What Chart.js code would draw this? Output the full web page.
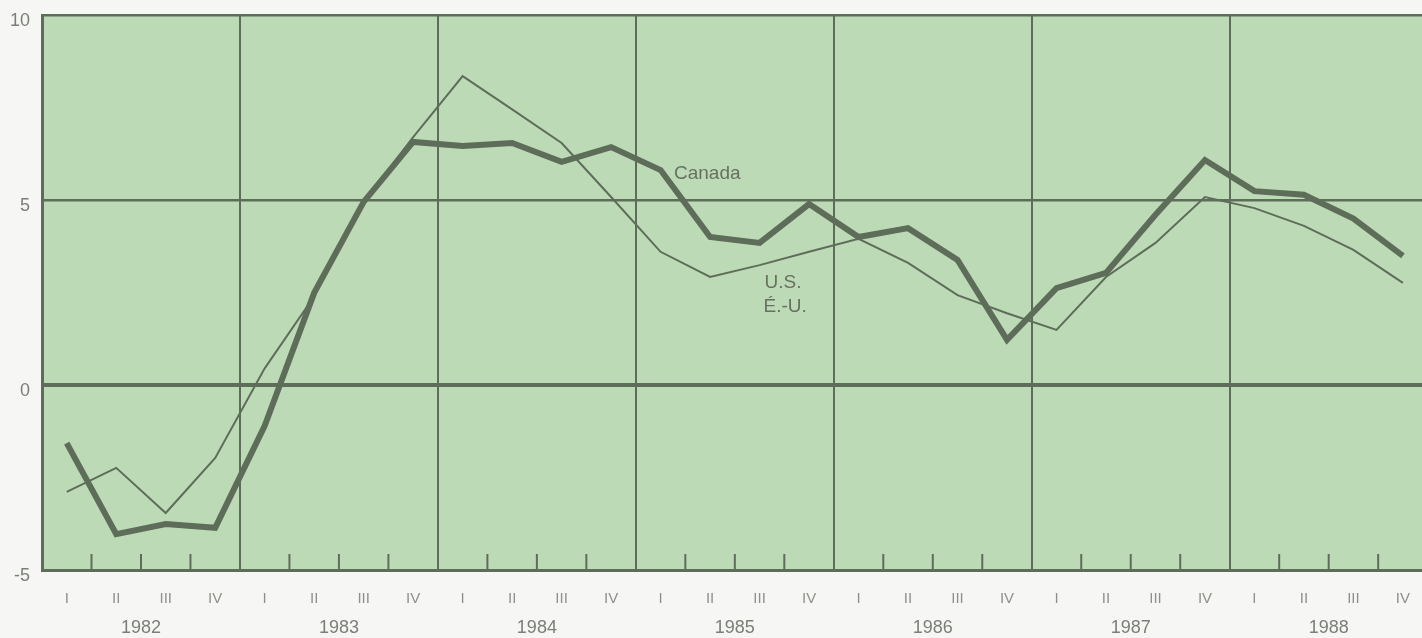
<!DOCTYPE html>
<html>
<head>
<meta charset="utf-8">
<script src="https://cdn.jsdelivr.net/npm/chart.js@4/dist/chart.umd.min.js"></script>
<style>
  html, body { margin: 0; padding: 0; background: #f6f7f4; overflow: hidden; }
  #wrap { width: 1430px; height: 638px; }
</style>
</head>
<body>
<div id="wrap"><canvas id="myChart"></canvas></div>
<script>
// quarterly values, 1982 I .. 1988 IV
const years = ["1982", "1983", "1984", "1985", "1986", "1987", "1988"];
const quarters = ["I", "II", "III", "IV"];
const canada = [-1.57, -4.03, -3.76, -3.86, -1.1, 2.49, 4.95, 6.57, 6.46, 6.54, 6.03, 6.43,
  5.81, 4.0, 3.84, 4.89, 4.0, 4.24, 3.38, 1.22, 2.62, 3.03, 4.6, 6.08, 5.24, 5.14, 4.5, 3.49];
const us = [-2.89, -2.24, -3.46, -1.97, 0.45, 2.4, 4.95, 6.7, 8.35, 7.45, 6.54, 5.08,
  3.6, 2.92, 3.24, 3.6, 3.95, 3.3, 2.43, 1.94, 1.49, 2.92, 3.84, 5.08, 4.78, 4.3, 3.65, 2.76];
const yTicks = [-5, 0, 5, 10];

let labels = [];
years.forEach(() => quarters.forEach((q) => labels.push(q)));

const lineCol = "#5e6d59";
const textCol = "#7a7f77";

// green plot area + short quarter marks + line names
const decor = {
  id: "decor",
  beforeDraw(chart) {
    let a = chart.chartArea;
    let ctx = chart.ctx;
    ctx.save();
    ctx.fillStyle = "#bddab6";
    ctx.fillRect(a.left, a.top, a.right - a.left, a.bottom - a.top);
    ctx.restore();
  },
  beforeDatasetsDraw(chart) {
    let a = chart.chartArea;
    let ctx = chart.ctx;
    let x = chart.scales.x;
    ctx.save();
    ctx.strokeStyle = lineCol;
    ctx.lineWidth = 2;
    for (let i = 1; i < labels.length; i++) {
      if (i % 4 == 0) continue;
      let px = (x.getPixelForValue(i - 1) + x.getPixelForValue(i)) / 2;
      ctx.beginPath();
      ctx.moveTo(px, a.bottom);
      ctx.lineTo(px, a.bottom - 16);
      ctx.stroke();
    }
    ctx.restore();
  },
  afterDatasetsDraw(chart) {
    let ctx = chart.ctx;
    let x = chart.scales.x;
    let y = chart.scales.y;
    let notes = [
      { text: "Canada", at: 12.27, v: 5.57 },
      { text: "U.S.", at: 14.1, v: 2.62 },
      { text: "É.-U.", at: 14.08, v: 1.97 },
    ];
    ctx.save();
    ctx.fillStyle = "#67715f";
    ctx.font = "19px 'Liberation Sans', Arial, sans-serif";
    ctx.textBaseline = "alphabetic";
    notes.forEach((n) => {
      ctx.fillText(n.text, x.getPixelForValue(n.at), y.getPixelForValue(n.v));
    });
    ctx.restore();
  },
};

let ctx = document.getElementById("myChart").getContext("2d");

const myChart = new Chart(ctx, {
  type: "line",
  data: {
    labels: labels,
    datasets: [
      {
        label: "U.S.",
        data: us,
        borderColor: lineCol,
        borderWidth: 2,
        pointRadius: 0,
        tension: 0,
        borderJoinStyle: "miter",
      },
      {
        label: "Canada",
        data: canada,
        borderColor: lineCol,
        borderWidth: 6,
        pointRadius: 0,
        tension: 0,
        borderJoinStyle: "miter",
      },
    ],
  },
  plugins: [decor],
  options: {
    responsive: true,
    maintainAspectRatio: false,
    animation: false,
    layout: { padding: { top: 15, right: 0, left: 0, bottom: 0 } },
    plugins: { legend: { display: false }, tooltip: { enabled: false } },
    scales: {
      y: {
        min: -5,
        max: 10,
        afterBuildTicks: (s) => { s.ticks = yTicks.map((v) => ({ value: v })); },
        afterFit: (s) => {
          s.width = 42;
          s.paddingTop = 0;
          s.paddingBottom = 0;
        },
        border: { display: true, color: lineCol, width: 3 },
        grid: {
          drawTicks: false,
          color: lineCol,
          lineWidth: (c) => (c.tick.value == 0 ? 4 : c.tick.value == -5 ? 3 : 2.5),
        },
        ticks: {
          padding: 12,
          labelOffset: 6,
          color: textCol,
          font: { size: 18, family: "'Liberation Sans', Arial, sans-serif" },
        },
      },
      x: {
        offset: true,
        afterFit: (s) => { s.height = 45; },
        border: { display: false },
        grid: {
          offset: true,
          drawTicks: false,
          color: (c) => (c.index % 4 == 0 ? lineCol : "transparent"),
          lineWidth: 2,
        },
        ticks: {
          padding: 20,
          autoSkip: false,
          maxRotation: 0,
          color: "#8d918a",
          font: { size: 15, family: "'Liberation Sans', Arial, sans-serif" },
        },
      },
      x2: {
        type: "category",
        position: "bottom",
        labels: years,
        offset: true,
        weight: 1,
        afterFit: (s) => { s.height = 23; },
        border: { display: false },
        grid: { display: false, drawTicks: false },
        ticks: {
          padding: 2,
          maxRotation: 0,
          color: textCol,
          font: { size: 18, family: "'Liberation Sans', Arial, sans-serif" },
        },
      },
    },
  },
});
</script>
</body>
</html>
